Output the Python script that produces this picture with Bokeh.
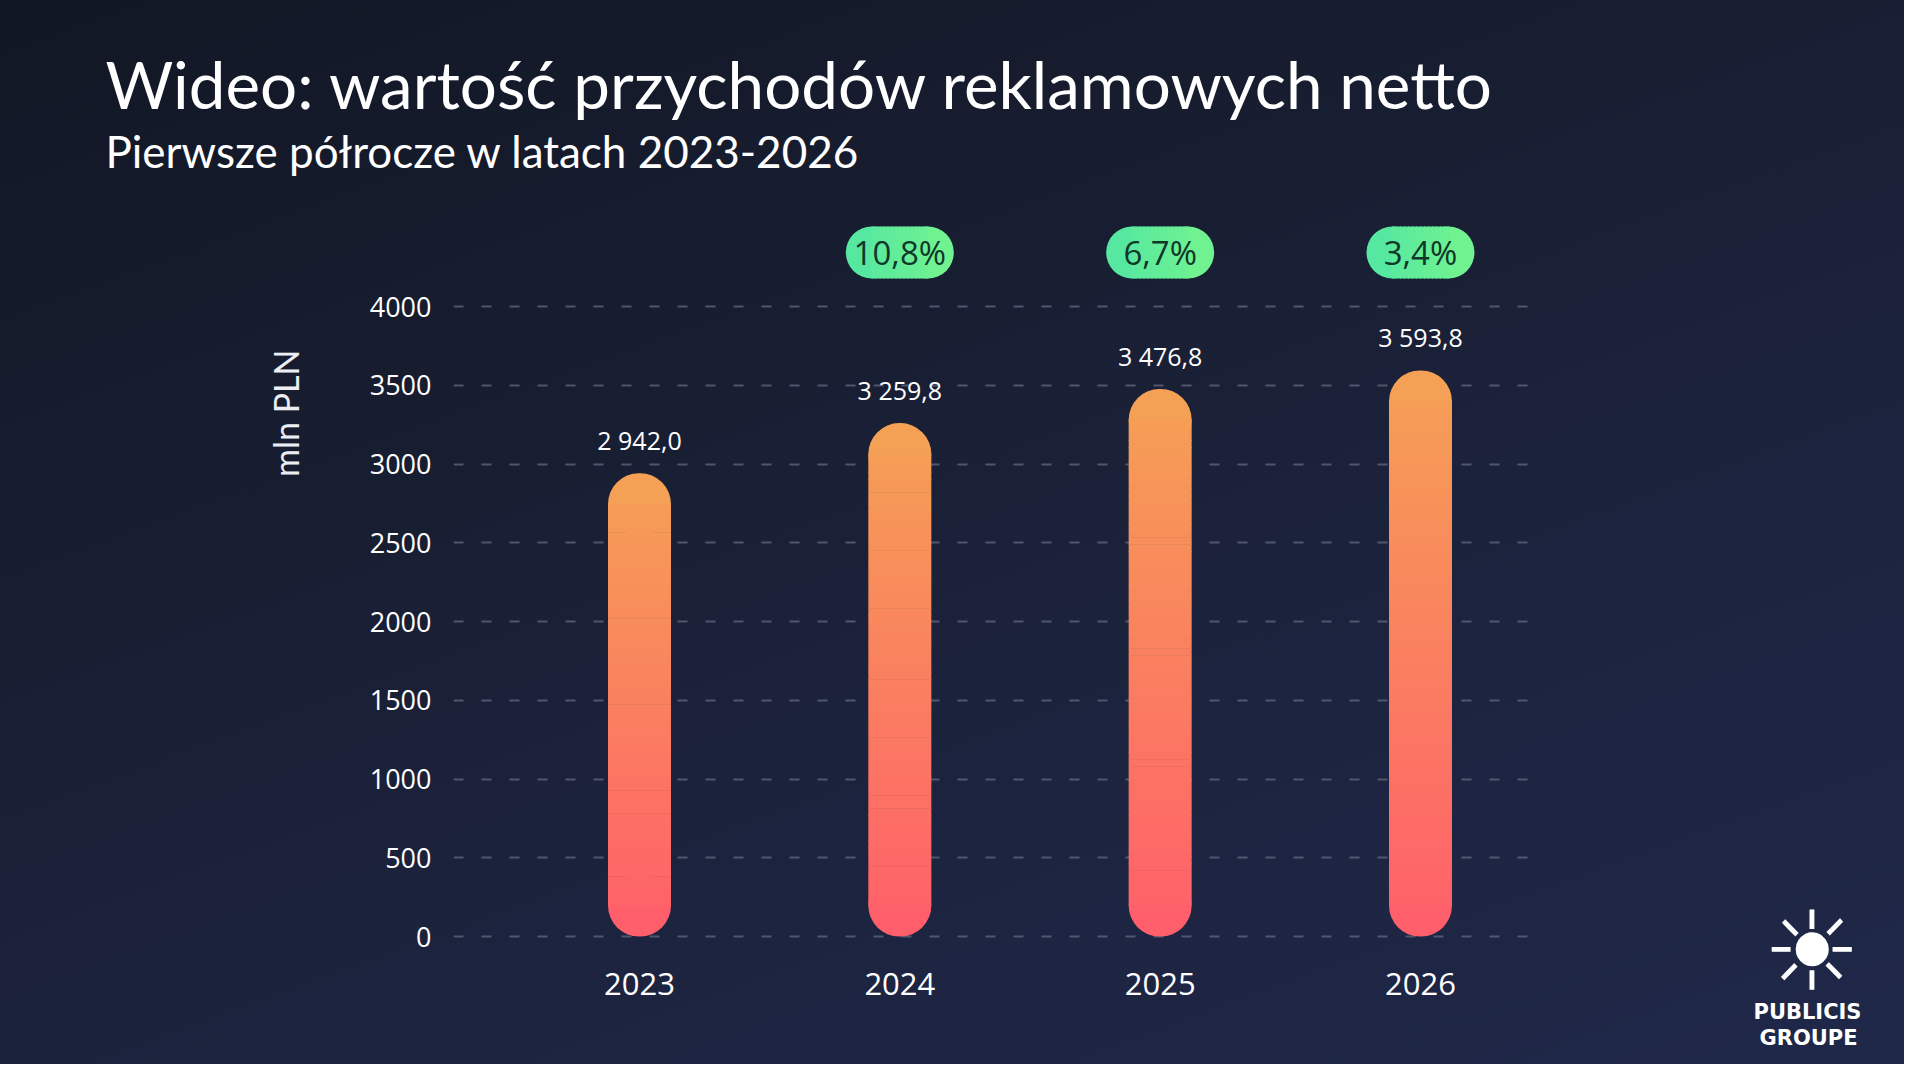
import numpy as np
from bokeh.plotting import figure
from bokeh.models import Range1d, FixedTicker, ColumnDataSource, Title, LinearAxis
from bokeh.core.properties import value
from bokeh.embed import file_html
from bokeh.resources import INLINE

# ---------------- data ----------------
years = [2023, 2024, 2025, 2026]
revenue = [2942.0, 3259.8, 3476.8, 3593.8]
growth_years = [2024, 2025, 2026]
growth_labels = ["10,8%", "6,7%", "3,4%"]
y_ticks = [0, 500, 1000, 1500, 2000, 2500, 3000, 3500, 4000]

TITLE = "Wideo: wartość przychodów reklamowych netto"
SUBTITLE = "Pierwsze półrocze w latach 2023-2026"
Y_LABEL = "mln PLN"
LOGO_LINES = ["PUBLICIS", "GROUPE"]

# ---------------- layout ----------------
W, H = 1904, 1064
FL, FR, FT, FB = 453, 1543, 176, 952          # frame edges (px)
C0, STEP = 639.0, 260.33                       # first category centre, spacing (px)
ZERO_PX, PX_PER_UNIT = 936.0, 0.1575

x_start = years[0] + (FL - C0) / STEP
x_end = years[0] + (FR - C0) / STEP
y_start = (ZERO_PX - FB) / PX_PER_UNIT
y_end = (ZERO_PX - FT) / PX_PER_UNIT


def dy(py):
    return (ZERO_PX - py) / PX_PER_UNIT


p = figure(width=W, height=H, output_backend="svg", toolbar_location=None,
           x_range=Range1d(x_start, x_end), y_range=Range1d(y_start, y_end),
           min_border_left=FL, min_border_right=W - FR,
           min_border_top=FT, min_border_bottom=H - FB)

p.background_fill_alpha = 0
p.border_fill_alpha = 0
p.outline_line_color = None
p.styles = {"background": "linear-gradient(160deg, #121725 0%, #181e31 35%, #1d2440 70%, #20284a 100%)"}

# axes
p.xaxis.ticker = FixedTicker(ticks=years)
p.xaxis.axis_line_color = None
p.xaxis.major_tick_line_color = None
p.xaxis.minor_tick_line_color = None
p.xaxis.major_tick_out = 0
p.xaxis.major_label_text_font = "Open Sans"
p.xaxis.major_label_text_font_size = "31px"
p.xaxis.major_label_text_color = "#ffffff"
p.xaxis.major_label_standoff = 972 - FB

p.yaxis.ticker = FixedTicker(ticks=y_ticks)
p.yaxis.axis_line_color = None
p.yaxis.major_tick_line_color = None
p.yaxis.minor_tick_line_color = None
p.yaxis.major_label_text_font = "Open Sans"
p.yaxis.major_label_text_font_size = "27px"
p.yaxis.major_label_text_color = "#ffffff"
p.yaxis.major_label_standoff = 16

p.xgrid.grid_line_color = None
p.ygrid.ticker = FixedTicker(ticks=y_ticks)
p.ygrid.grid_line_color = "#5d647c"
p.ygrid.grid_line_alpha = 0.8
p.ygrid.grid_line_width = 2
p.ygrid.grid_line_dash = "10 18"

# ---------------- gradient capsule bars ----------------
TOP_C = np.array([0xF5, 0xA1, 0x55])
BOT_C = np.array([0xFF, 0x5F, 0x6A])
BAR_W = 63.0 / STEP
R_PX = 31
R_D = R_PX / PX_PER_UNIT
N = 70


def hexc(c):
    return "#%02x%02x%02x" % tuple(int(round(v)) for v in c)


bot_caps = ColumnDataSource(dict(x=years, bottom=[0] * len(years),
                                 top=[2 * R_D] * len(years)))
top_caps = ColumnDataSource(dict(x=years, bottom=[v - 2 * R_D for v in revenue],
                                 top=revenue))
p.vbar(x="x", bottom="bottom", top="top", width=BAR_W, source=bot_caps,
       fill_color=hexc(BOT_C), line_color=None, border_radius=R_PX)
p.vbar(x="x", bottom="bottom", top="top", width=BAR_W, source=top_caps,
       fill_color=hexc(TOP_C), line_color=None, border_radius=R_PX)

sx, sb, st, sc = [], [], [], []
for yr, v in zip(years, revenue):
    edges = np.linspace(R_D, v - R_D, N + 1)
    for k in range(N):
        b, t = edges[k], edges[k + 1]
        frac = ((b + t) / 2) / v
        sx.append(yr)
        sb.append(b)
        st.append(t + 4)
        sc.append(hexc(BOT_C + (TOP_C - BOT_C) * frac))
p.vbar(x="x", bottom="bottom", top="top", width=BAR_W, fill_color="color",
       line_color=None, source=ColumnDataSource(dict(x=sx, bottom=sb, top=st, color=sc)))

# value labels
val_text = [f"{v:,.1f}".replace(",", " ").replace(".", ",") for v in revenue]
p.text(x=years, y=revenue, text=val_text, y_offset=-33,
       text_align="center", text_baseline="middle",
       text_font=value("Open Sans"), text_font_size="25px", text_color="#ffffff")

# ---------------- growth pills (horizontal gradient) ----------------
PILL_Y = dy(252)
PILL_W, PILL_H = 108, 52
PL_C = np.array([0x52, 0xE6, 0xA3])
PR_C = np.array([0x74, 0xF4, 0x8E])
PX_TO_X = 1.0 / STEP
py_list = [PILL_Y] * len(growth_years)
for side, col in [(-1, PL_C + (PR_C - PL_C) * 0.12), (1, PL_C + (PR_C - PL_C) * 0.88)]:
    p.rect(x=[g + side * 28 * PX_TO_X for g in growth_years], y=py_list,
           width=52, height=PILL_H, width_units="screen", height_units="screen",
           border_radius=26, fill_color=hexc(col), line_color=None)
gx, gy, gc = [], [], []
NS = 14
for g in growth_years:
    for k in range(NS):
        cpx = -28 + (k + 0.5) * 56 / NS
        frac = (cpx + PILL_W / 2) / PILL_W
        gx.append(g + cpx * PX_TO_X)
        gy.append(PILL_Y)
        gc.append(hexc(PL_C + (PR_C - PL_C) * frac))
p.rect(x="x", y="y", width=56 / NS + 1, height=PILL_H, width_units="screen",
       height_units="screen", fill_color="color", line_color=None,
       source=ColumnDataSource(dict(x=gx, y=gy, color=gc)))
p.text(x=growth_years, y=py_list, text=growth_labels,
       text_align="center", text_baseline="middle",
       text_font=value("Open Sans"), text_font_size="33px", text_color="#0f3829")

# ---------------- titles ----------------
p.add_layout(Title(text=SUBTITLE, align="left", offset=105 - FL, standoff=0,
                   text_font="Lato", text_font_style="normal",
                   text_font_size="44px", text_color="#ffffff"), "above")
p.add_layout(Title(text=TITLE, align="left", offset=105 - FL, standoff=0,
                   text_font="Lato", text_font_style="normal",
                   text_font_size="65.5px", text_color="#ffffff"), "above")

# y axis label as a left-side title (aligned to top of frame)
p.add_layout(Title(text=Y_LABEL, align="right", offset=349 - FT, standoff=122,
                   text_font="Lato", text_font_style="normal",
                   text_font_size="34px", text_color="#eceef4"), "left")

# ---------------- logo ----------------
SUN_TICK = -100
logo_axis = LinearAxis(ticker=FixedTicker(ticks=[SUN_TICK]),
                       major_label_overrides={SUN_TICK: "☀"},
                       axis_line_color=None, major_tick_line_color=None,
                       minor_tick_line_color=None, major_tick_out=0,
                       major_label_standoff=219,
                       major_label_text_font="DejaVu Sans",
                       major_label_text_font_size="110px",
                       major_label_text_color="#ffffff")
p.add_layout(logo_axis, "right")

for txt, left in zip(LOGO_LINES, [1753, 1759]):
    p.add_layout(Title(text=txt, align="left", offset=left - FL, standoff=0,
                       text_font="DejaVu Sans", text_font_style="bold",
                       text_font_size="21px", text_color="#ffffff"), "below")

open("out.html", "w").write(file_html(p, INLINE))
